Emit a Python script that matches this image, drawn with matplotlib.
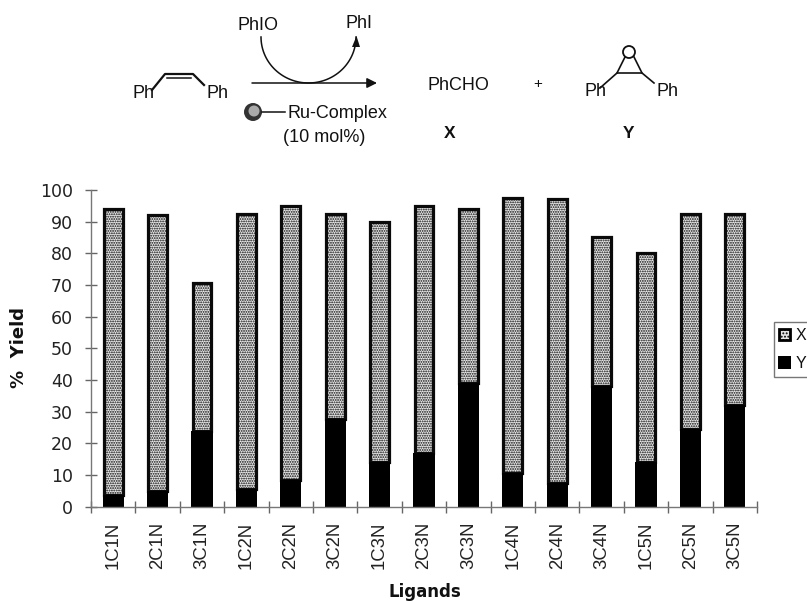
import matplotlib
matplotlib.use("Agg")
import numpy as np
import matplotlib.pyplot as plt
from matplotlib.patches import Circle, FancyArrowPatch, Rectangle, Polygon

# =========================
# 1. DATA
# =========================
ligands = ["1C1N", "2C1N", "3C1N", "1C2N", "2C2N", "3C2N", "1C3N", "2C3N",
           "3C3N", "1C4N", "2C4N", "3C4N", "1C5N", "2C5N", "3C5N"]
y_yield = [3.5, 5, 24, 5.5, 8.5, 27.5, 14, 17, 39, 10.5, 7.5, 38, 14, 24.5, 32]
x_yield = [90.5, 87, 46.5, 87, 86.5, 65, 76, 78, 55, 87, 89.5, 47, 66, 68, 60.5]
y_ticks = [0, 10, 20, 30, 40, 50, 60, 70, 80, 90, 100]

W, H = 807, 601
plt.rcParams["font.family"] = ["Liberation Sans", "DejaVu Sans"]
plt.rcParams["hatch.linewidth"] = 0.9

fig = plt.figure(figsize=(W / 100, H / 100), dpi=100)

# =========================
# 2. BAR CHART
# =========================
ax = fig.add_axes([91 / W, 1 - 506.5 / H, (757 - 91) / W, (506.5 - 190) / H])
pos = np.arange(len(ligands))
ax.bar(pos, x_yield, width=0.42, bottom=y_yield, color="#e8e8e8", edgecolor="#0a0a0a",
       hatch=".......", linewidth=2.3)
ax.bar(pos, y_yield, width=0.475, color="black", linewidth=0)

ax.set_xlim(-0.5, len(ligands) - 0.5)
ax.set_ylim(0, 100)
ax.set_yticks(y_ticks)
ax.set_yticklabels([str(v) for v in y_ticks], family="DejaVu Sans", fontsize=12.5, color="#222222")
ax.tick_params(axis="y", direction="inout", length=9, width=1, color="#666666", pad=8.5)

ax.set_xticks(pos)
ax.set_xticklabels(ligands, rotation=90, fontsize=13.3, color="#222222")
ax.set_xticks(np.arange(len(ligands) + 1) - 0.5, minor=True)
ax.tick_params(axis="x", which="major", length=0, pad=11)
ax.tick_params(axis="x", which="minor", direction="inout", length=9, width=1, color="#666666")

for s in ["top", "right"]:
    ax.spines[s].set_visible(False)
for s in ["left", "bottom"]:
    ax.spines[s].set_color("#777777")
    ax.spines[s].set_linewidth(1)

# =========================
# 3. SCHEME AND TEXT (pixel coordinates)
# =========================
ov = fig.add_axes([0, 0, 1, 1], zorder=5)
ov.set_xlim(0, W)
ov.set_ylim(H, 0)
ov.axis("off")
ov.patch.set_alpha(0)

txt = dict(ha="center", va="center", color="#111111")
ov.text(19, 347, "%  Yield", rotation=90, fontsize=13, fontweight="bold",
        family="DejaVu Sans", **txt)
ov.text(425, 592, "Ligands", fontsize=12, fontweight="bold", family="DejaVu Sans", **txt)

# legend, runs off the right edge like the original
ov.add_patch(Rectangle((774, 322), 40, 55, fc="white", ec="#777777", lw=1))
ov.add_patch(Rectangle((779, 329), 11, 11, fc="#e4e4e4", ec="black", lw=2, hatch="....."))
ov.add_patch(Rectangle((778, 356), 13, 13, fc="black", ec="none"))
ov.text(796, 335, "X", fontsize=11.5, ha="left", va="center", color="#111111")
ov.text(796, 363, "Y", fontsize=11.5, ha="left", va="center", color="#111111")

# stilbene
ov.plot([152, 165, 193, 204], [90, 74, 74, 85], color="#111111", lw=1.6)
ov.plot([167, 191], [78, 78], color="#111111", lw=1.1)
ov.text(144, 93, "Ph", fontsize=13, **txt)
ov.text(218, 93, "Ph", fontsize=13, **txt)

# reagents and reaction arrow
ov.text(258, 25, "PhIO", fontsize=13, **txt)
ov.text(359, 23, "PhI", fontsize=13, **txt)
ov.add_patch(FancyArrowPatch((252, 83), (377, 83), arrowstyle="-|>", mutation_scale=15,
                             lw=1.1, color="#111111", shrinkA=0, shrinkB=0))
t = np.linspace(0, np.pi, 60)
ov.plot(308.5 - 47.5 * np.cos(t), 37 + 46 * np.sin(t), color="#111111", lw=1.1)
ov.add_patch(Polygon([[356.5, 36], [352, 47], [360, 47]], fc="#111111", ec="none"))

# supported catalyst
ov.add_patch(Circle((253, 112), 9, fc="#333333", ec="none"))
ov.add_patch(Circle((254, 111), 5.5, fc="#aaaaaa", ec="none"))
ov.plot([262, 285], [112, 112], color="#111111", lw=1.1)
ov.text(337, 113, "Ru-Complex", fontsize=13, **txt)
ov.text(324, 137, "(10 mol%)", fontsize=13, **txt)

# products
ov.text(458, 86, "PhCHO", fontsize=13, **txt)
ov.text(538, 84, "+", fontsize=11, **txt)
ov.text(450, 133, "X", fontsize=12.5, fontweight="bold", **txt)
ov.text(629, 133, "Y", fontsize=12.5, fontweight="bold", **txt)
ov.plot([600, 617, 642, 654], [88, 73, 73, 83], color="#111111", lw=1.2)
ov.plot([617, 625], [73, 57], color="#111111", lw=1.2)
ov.plot([642, 634], [73, 57], color="#111111", lw=1.2)
ov.add_patch(Circle((629, 52), 6, fc="white", ec="#111111", lw=1.3))
ov.text(595, 92, "Ph", fontsize=13, **txt)
ov.text(668, 92, "Ph", fontsize=13, **txt)

fig.savefig("out.png", dpi=100)
